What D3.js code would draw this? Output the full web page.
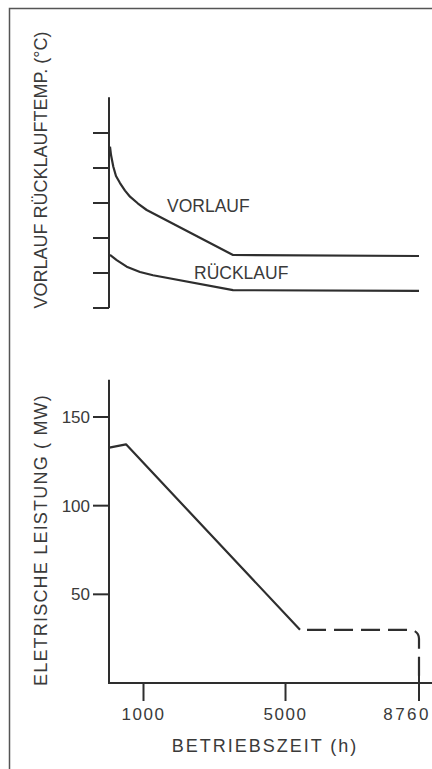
<!DOCTYPE html>
<html>
<head>
<meta charset="utf-8">
<script src="https://cdn.jsdelivr.net/npm/d3@7"></script>
<style>
  body { margin: 0; background: #fff; }
  svg { display: block; }
  text { font-family: "Liberation Sans", Arial, sans-serif; fill: #3a3a3a; }
</style>
</head>
<body>
<div id="chart"></div>
<script>
// Data

var hourTicks = [1000, 5000, 8760];
var powerTicks = [50, 100, 150];
var tempTicks = [40, 60, 80, 100, 120, 140];   // unlabelled in the original

var vorlauf = [
  [56, 132.2], [85, 127.4], [150, 120.7], [225, 115.4], [338, 111.4],
  [479, 107.1], [620, 103.6], [845, 99.7], [1090, 96], [3521, 70.3], [8760, 69.7]
];
var ruecklauf = [
  [56, 70.3], [245, 67.4], [527, 63.6], [901, 60.6], [1268, 58.7],
  [3521, 50.2], [8760, 49.8]
];
var powerSolid = [[37, 132.7], [507, 134.6], [5408, 30]];
var powerDashed = [[5606, 30], [8760, 30], [8760, 0]];

// Layout

var width = 432,
    height = 769;

var svg = d3.select("#chart").append("svg")
    .attr("width", width)
    .attr("height", height);

var ink = "#2e2e2e";

// frame
svg.append("path")
    .attr("d", "M9.5,769 V8.5 H432")
    .attr("fill", "none")
    .attr("stroke", "#555")
    .attr("stroke-width", 1.5);

var x = d3.scaleLinear()
    .domain([0, 8760])
    .range([108, 419]);

// Top chart: temperatures

var yTemp = d3.scaleLinear()
    .domain([40, 140])
    .range([308, 133]);

var tempG = svg.append("g");

tempG.append("line")
    .attr("x1", x(0) + 1).attr("x2", x(0) + 1)
    .attr("y1", yTemp(160.5)).attr("y2", yTemp(40))
    .attr("stroke", ink).attr("stroke-width", 2);

tempG.selectAll(".ttick")
    .data(tempTicks)
  .enter().append("line")
    .attr("class", "ttick")
    .attr("x1", 93).attr("x2", x(0) + 1)
    .attr("y1", function(d) { return yTemp(d); })
    .attr("y2", function(d) { return yTemp(d); })
    .attr("stroke", ink).attr("stroke-width", 2);

var tempLine = d3.line()
    .x(function(d) { return x(d[0]); })
    .y(function(d) { return yTemp(d[1]); })
    .curve(d3.curveLinear);

[vorlauf, ruecklauf].forEach(function(s) {
  tempG.append("path")
      .attr("d", tempLine(s))
      .attr("fill", "none")
      .attr("stroke", ink)
      .attr("stroke-width", 2.2)
      .attr("stroke-linejoin", "round");
});

tempG.append("text")
    .attr("x", 167).attr("y", 212)
    .attr("font-size", 17.5)
    .text("VORLAUF");

tempG.append("text")
    .attr("x", 194).attr("y", 279)
    .attr("font-size", 17.5)
    .text("RÜCKLAUF");

tempG.append("text")
    .attr("transform", "translate(47,170) rotate(-90)")
    .attr("text-anchor", "middle")
    .attr("font-size", 18)
    .text("VORLAUF RÜCKLAUFTEMP. (°C)");

// Bottom chart: power

var yPow = d3.scaleLinear()
    .domain([0, 150])
    .range([683, 417]);

var powG = svg.append("g");

// y axis
powG.append("line")
    .attr("x1", x(0) + 1).attr("x2", x(0) + 1)
    .attr("y1", yPow(171)).attr("y2", yPow(0))
    .attr("stroke", ink).attr("stroke-width", 2);

powG.selectAll(".ptick")
    .data(powerTicks)
  .enter().append("line")
    .attr("class", "ptick")
    .attr("x1", 93).attr("x2", x(0) + 1)
    .attr("y1", function(d) { return yPow(d); })
    .attr("y2", function(d) { return yPow(d); })
    .attr("stroke", ink).attr("stroke-width", 2);

powG.selectAll(".plabel")
    .data(powerTicks)
  .enter().append("text")
    .attr("class", "plabel")
    .attr("x", 90)
    .attr("y", function(d) { return yPow(d); })
    .attr("dy", "0.36em")
    .attr("text-anchor", "end")
    .attr("font-size", 17)
    .text(function(d) { return d; });

// x axis
powG.append("line")
    .attr("x1", x(0)).attr("x2", width)
    .attr("y1", yPow(0)).attr("y2", yPow(0))
    .attr("stroke", ink).attr("stroke-width", 2);

powG.selectAll(".htick")
    .data(hourTicks)
  .enter().append("line")
    .attr("class", "htick")
    .attr("x1", function(d) { return x(d); })
    .attr("x2", function(d) { return x(d); })
    .attr("y1", function(d) { return d === 8760 ? yPow(0) - 8 : yPow(0); })
    .attr("y2", yPow(0) + 18)
    .attr("stroke", ink).attr("stroke-width", 2);

powG.selectAll(".hlabel")
    .data(hourTicks)
  .enter().append("text")
    .attr("class", "hlabel")
    .attr("x", function(d) { return d === 8760 ? width - 1 : x(d); })
    .attr("y", 720)
    .attr("text-anchor", function(d) { return d === 8760 ? "end" : "middle"; })
    .attr("font-size", 17)
    .attr("letter-spacing", function(d) { return d === 8760 ? 2.5 : 1.5; })
    .text(function(d) { return d; });

var powLine = d3.line()
    .x(function(d) { return x(d[0]); })
    .y(function(d) { return yPow(d[1]); });

powG.append("path")
    .attr("d", powLine(powerSolid))
    .attr("fill", "none")
    .attr("stroke", ink)
    .attr("stroke-width", 2.2)
    .attr("stroke-linejoin", "round");

// dashed part with a rounded corner
var dp = d3.path();
dp.moveTo(x(powerDashed[0][0]), yPow(powerDashed[0][1]));
dp.arcTo(x(powerDashed[1][0]), yPow(powerDashed[1][1]),
         x(powerDashed[2][0]), yPow(powerDashed[2][1]), 9);
dp.lineTo(x(powerDashed[2][0]), yPow(powerDashed[2][1]));

powG.append("path")
    .attr("d", dp.toString())
    .attr("fill", "none")
    .attr("stroke", ink)
    .attr("stroke-width", 2.2)
    .attr("stroke-dasharray", "19,8");

powG.append("text")
    .attr("x", 265).attr("y", 752)
    .attr("text-anchor", "middle")
    .attr("font-size", 18)
    .attr("letter-spacing", 2)
    .text("BETRIEBSZEIT  (h)");

powG.append("text")
    .attr("transform", "translate(47,540) rotate(-90)")
    .attr("text-anchor", "middle")
    .attr("font-size", 18)
    .attr("letter-spacing", 1.2)
    .text("ELETRISCHE LEISTUNG ( MW)");
</script>
</body>
</html>
